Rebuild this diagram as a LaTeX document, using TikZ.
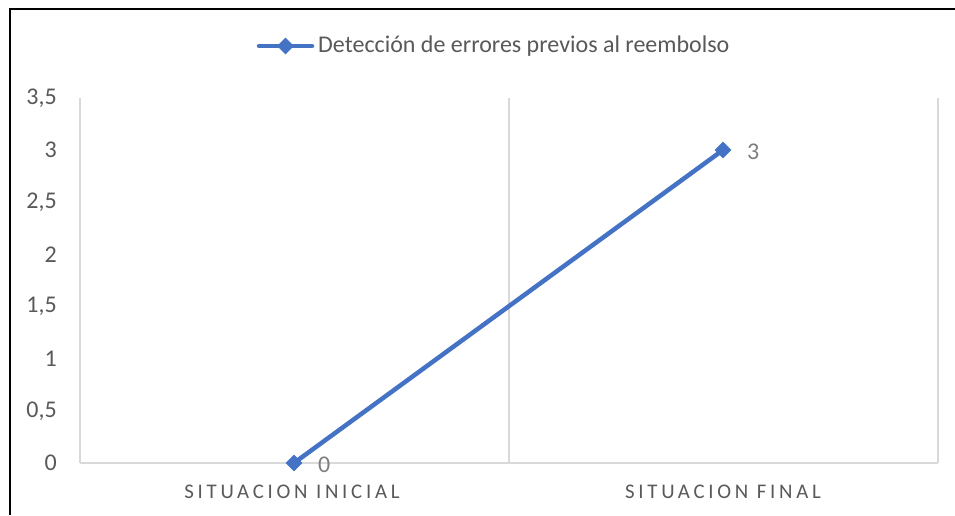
\documentclass[tikz,border=0pt]{standalone}
\usepackage{fontspec}
\setmainfont{Carlito}
\newfontfamily\catfont[LetterSpace=18]{Carlito}
\usetikzlibrary{shapes.geometric}
\definecolor{series}{HTML}{4472C4}
\definecolor{txt}{HTML}{595959}
\definecolor{lbl}{HTML}{7F7F7F}
\definecolor{grid}{HTML}{D9D9D9}
\tikzset{
  tick/.style={anchor=east, text=txt, font=\fontsize{24}{26}\selectfont, inner sep=0pt},
  cat/.style={anchor=center, text=txt, font=\catfont\fontsize{20.8}{23}\selectfont, inner sep=0pt},
  datalbl/.style={anchor=west, text=lbl, font=\fontsize{24}{26}\selectfont, inner sep=0pt},
  gridline/.style={draw=grid, line width=1.5pt},
  seriesline/.style={draw=series, line width=4.5pt},
  marker/.style={diamond, fill=series, draw=none, minimum width=17pt, minimum height=17pt, inner sep=0pt},
  frame/.style={draw=black, line width=2pt}
}
\begin{document}
\begin{tikzpicture}[x=1pt, y=-1pt]
\useasboundingbox (0,0) rectangle (955,515);
\fill[white] (0,0) rectangle (955,515);
% frame
\draw[frame] (9.5,515) -- (9.5,8.5) -- (955,8.5);
% gridlines
\draw[gridline] (80,98) -- (80,463);
\draw[gridline] (509,98) -- (509,463);
\draw[gridline] (938,98) -- (938,463);
\draw[gridline] (80,463) -- (938,463);
% tick labels
\foreach \v/\t in {0/0, 0.5/{0,5}, 1/1, 1.5/{1,5}, 2/2, 2.5/{2,5}, 3/3, 3.5/{3,5}}
  \node[tick] at (57, 463-104.3*\v) {\t};
% categories
\node[cat] (c1) at (292,492) {SITUACION INICIAL};
\node[cat] (c2) at (723,492) {SITUACION FINAL};
% series
\coordinate (p1) at (294,463);
\coordinate (p2) at (723,150);
\draw[seriesline] (p1) -- (p2);
\node[marker] (m1) at (p1) {};
\node[marker] (m2) at (p2) {};
\node[datalbl] (l1) at (318,465) {0};
\node[datalbl] (l2) at (747,152) {3};
% legend
\coordinate (la) at (259,46);
\coordinate (lb) at (312,46);
\draw[seriesline, line cap=round] (la) -- (lb);
\node[marker] (lm) at (285.5,46) {};
\node[anchor=west, text=txt, font=\fontsize{24}{26}\selectfont, inner sep=0pt] (lt) at (318,46) {Detección de errores previos al reembolso};
\end{tikzpicture}
\end{document}
